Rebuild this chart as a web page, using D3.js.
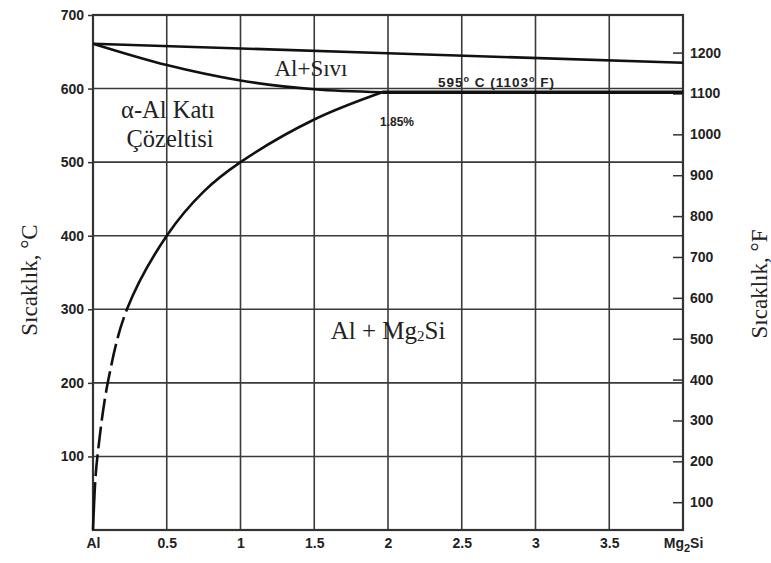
<!DOCTYPE html>
<html>
<head>
<meta charset="utf-8">
<script src="https://cdn.jsdelivr.net/npm/d3@7"></script>
<style>
  body { margin: 0; background: #fff; }
  svg { display: block; }
  .tick text { font-family: "Liberation Sans", Arial, sans-serif; font-weight: bold; font-size: 14px; fill: #222; }
  .serif { font-family: "Liberation Serif", "Times New Roman", serif; fill: #222; }
</style>
</head>
<body>
<script>
// composition axis (wt% Mg2Si), Al on the left, Mg2Si on the right
var xTicks = [0, 0.5, 1, 1.5, 2, 2.5, 3, 3.5, 4];
var xTickLabels = ['Al', '0.5', '1', '1.5', '2', '2.5', '3', '3.5', 'Mg2Si'];
var cTicks = [100, 200, 300, 400, 500, 600, 700];
var fTicks = [100, 200, 300, 400, 500, 600, 700, 800, 900, 1000, 1100, 1200];

// phase boundaries, [wt%, °C]
var liquidus = [[0, 661], [2, 648], [4, 635]];
var solidus = [[0, 661], [0.5, 632], [1.0, 611], [1.5, 599], [1.96, 595]];
var eutectic = [[1.96, 595], [4, 595]];
// solvus read from Al corner up to the eutectic point; dashed between 65 and 300 °C
var solvus = [[0, 0], [0.015, 65], [0.03, 100], [0.10, 200], [0.23, 300], [0.5, 400],
              [0.75, 460], [1.0, 500], [1.5, 558], [1.96, 595]];
var solvusDashedFrom = 65, solvusDashedTo = 300;

var width = 771, height = 563;
var svg = d3.select('body').append('svg').attr('width', width).attr('height', height);

var x = d3.scaleLinear().domain([0, 4]).range([93, 683]);
var y = d3.scaleLinear().domain([0, 700]).range([530, 15]);
var yF = d3.scaleLinear().domain([32, 700 * 1.8 + 32]).range([530, 15]);

/** grid */
svg.append('g').selectAll('line').data(xTicks.slice(1, -1)).join('line')
  .attr('x1', function (d) { return x(d); }).attr('x2', function (d) { return x(d); })
  .attr('y1', y(700)).attr('y2', y(0))
  .attr('stroke', '#3a3a3a').attr('stroke-width', 1.6);
svg.append('g').selectAll('line').data(cTicks.slice(0, -1)).join('line')
  .attr('x1', x(0)).attr('x2', x(4))
  .attr('y1', function (d) { return y(d); }).attr('y2', function (d) { return y(d); })
  .attr('stroke', '#3a3a3a').attr('stroke-width', 1.6);

/** frame */
svg.append('rect').attr('x', x(0)).attr('y', y(700))
  .attr('width', x(4) - x(0)).attr('height', y(0) - y(700))
  .attr('fill', 'none').attr('stroke', '#333').attr('stroke-width', 2.2);

/** axes */
var left = svg.append('g').attr('transform', 'translate(' + x(0) + ',0)')
  .call(d3.axisLeft(y).tickValues(cTicks).tickSize(5).tickPadding(4));
left.select('.domain').remove();

var right = svg.append('g').attr('transform', 'translate(' + x(4) + ',0)')
  .call(d3.axisRight(yF).tickValues(fTicks).tickSize(-10).tickPadding(7).tickFormat(d3.format('d')));
right.select('.domain').remove();
right.selectAll('.tick text').attr('font-size', 13);

var bottom = svg.append('g').attr('transform', 'translate(0,' + y(0) + ')')
  .call(d3.axisBottom(x).tickValues(xTicks).tickSize(0).tickPadding(8)
    .tickFormat(function (d, i) { return xTickLabels[i]; }));
bottom.select('.domain').remove();
// Mg2Si with subscript 2
bottom.selectAll('.tick text').filter(function (d) { return d === 4; })
  .text(null)
  .call(function (t) {
    t.append('tspan').text('Mg');
    t.append('tspan').attr('dy', 4).attr('font-size', 11).text('2');
    t.append('tspan').attr('dy', -4).text('Si');
  });
svg.selectAll('.tick line').attr('stroke', '#333').attr('stroke-width', 1.5);

/** phase boundaries */
var line = d3.line().x(function (d) { return x(d[0]); }).y(function (d) { return y(d[1]); });
var curve = d3.line().x(function (d) { return x(d[0]); }).y(function (d) { return y(d[1]); })
  .curve(d3.curveCatmullRom.alpha(0.5));

svg.append('path').datum(liquidus).attr('d', line)
  .attr('fill', 'none').attr('stroke', '#111').attr('stroke-width', 2.6);
svg.append('path').datum(solidus).attr('d', curve)
  .attr('fill', 'none').attr('stroke', '#111').attr('stroke-width', 2.6);
svg.append('path').datum(eutectic).attr('d', line)
  .attr('fill', 'none').attr('stroke', '#111').attr('stroke-width', 3.6);

var solvusPath = svg.append('path').datum(solvus).attr('d', curve)
  .attr('fill', 'none').attr('stroke', '#111').attr('stroke-width', 2.6);

/** dashed part of the solvus: find path lengths where it crosses the two temperatures */
(function () {
  var node = solvusPath.node();
  var total = node.getTotalLength();
  function lengthAt(temp) {
    var target = y(temp), lo = 0, hi = total;
    for (var i = 0; i < 40; i++) {
      var mid = (lo + hi) / 2;
      if (node.getPointAtLength(mid).y > target) lo = mid; else hi = mid;
    }
    return lo;
  }
  var a = lengthAt(solvusDashedFrom), b = lengthAt(solvusDashedTo);
  // even entries are drawn, odd entries are gaps
  var dash = [a], pos = a;
  while (pos < b) {
    var seg = dash.length % 2 === 1 ? 6 : 22;
    seg = Math.min(seg, b - pos);
    dash.push(seg);
    pos += seg;
  }
  if (dash.length % 2 === 1) dash.push(0);
  dash.push(total - b + 10, total + 10);
  solvusPath.attr('stroke-dasharray', dash.join(','));
})();

/** region labels */
function label(txt, cx, cy, size) {
  return svg.append('text').attr('class', 'serif').attr('x', cx).attr('y', cy)
    .attr('text-anchor', 'middle').attr('font-size', size).text(txt);
}
label('Al+Sıvı', 311, 76, 23);
label('α-Al Katı', 168, 118, 24.5);
label('Çözeltisi', 170, 147, 24.5);
var mg = label(null, 388, 339, 25);
mg.append('tspan').text('Al + Mg');
mg.append('tspan').attr('font-size', 15).attr('dy', 2).text('2');
mg.append('tspan').attr('dy', -2).text('Si');

/** annotations */
var ann = svg.append('text').attr('x', 438).attr('y', 87)
  .attr('font-family', '"Liberation Sans", Arial, sans-serif').attr('font-weight', 'bold')
  .attr('font-size', 13.5).attr('letter-spacing', 1).attr('fill', '#222');
ann.append('tspan').text('595');
ann.append('tspan').attr('dy', -5).attr('font-size', 9).text('o');
ann.append('tspan').attr('dy', 5).text(' C (1103');
ann.append('tspan').attr('dy', -5).attr('font-size', 9).text('o');
ann.append('tspan').attr('dy', 5).text(' F)');
svg.append('text').attr('x', 380).attr('y', 126)
  .attr('font-family', '"Liberation Sans", Arial, sans-serif').attr('font-weight', 'bold')
  .attr('font-size', 12).attr('fill', '#222').text('1.85%');

/** axis titles */
svg.append('text').attr('class', 'serif').attr('font-size', 23).attr('fill', '#444')
  .attr('text-anchor', 'middle').attr('transform', 'translate(37,280) rotate(-90)')
  .text('Sıcaklık, °C');
svg.append('text').attr('class', 'serif').attr('font-size', 23).attr('fill', '#444')
  .attr('text-anchor', 'middle').attr('transform', 'translate(767,284) rotate(-90)')
  .text('Sıcaklık, °F');
</script>
</body>
</html>
